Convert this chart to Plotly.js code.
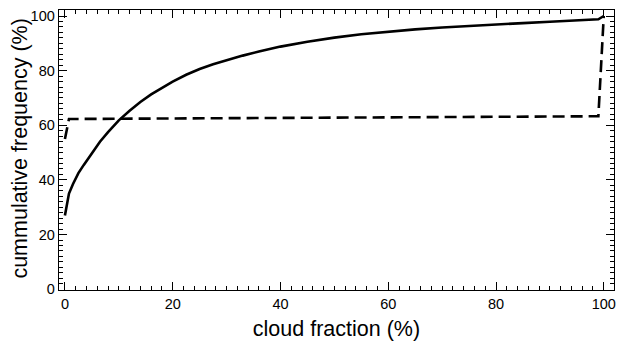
<!DOCTYPE html>
<html>
<head>
<meta charset="utf-8">
<script src="https://cdn.plot.ly/plotly-3.0.1.min.js"></script>
<style>html,body{margin:0;padding:0;background:#fff;}#chart{width:618px;height:343px;}</style>
</head>
<body>
<div id="chart"></div>
<script>
// Solid curve: cumulative frequency vs cloud fraction
var solidX = [0, 0.75, 1.5, 2.5, 3.5, 5, 6.5, 8, 10, 12, 14, 16, 18, 20, 22.5, 25, 27.5, 30, 33, 36, 40, 45, 50, 55, 60, 65, 70, 75, 80, 85, 90, 95, 99, 100];
var solidY = [27, 35, 38.5, 42.5, 45.5, 50, 54, 57.5, 61.8, 65.3, 68.5, 71.3, 73.8, 76, 78.5, 80.6, 82.3, 83.8, 85.5, 87, 88.8, 90.6, 92.1, 93.3, 94.3, 95.1, 95.8, 96.4, 96.9, 97.4, 97.9, 98.4, 98.8, 100];
// Dashed curve
var dashX = [0, 0.75, 99, 100];
var dashY = [55, 62.3, 63.3, 100];

var xTitle = 'cloud fraction (%)';
var yTitle = 'cummulative frequency (%)';

var font = 'Liberation Sans, Arial, Helvetica, sans-serif';

var traces = [
  {x: solidX, y: solidY, type: 'scatter', mode: 'lines',
   line: {color: '#000', width: 2.6}, hoverinfo: 'skip'},
  {x: dashX, y: dashY, type: 'scatter', mode: 'lines',
   line: {color: '#000', width: 2.6, dash: '12px,6px'}, hoverinfo: 'skip'}
];

var axisCommon = {
  showline: true, linecolor: '#000', linewidth: 1.3, mirror: 'allticks',
  ticks: 'inside', ticklen: 8, tickwidth: 1, tickcolor: '#000',
  showgrid: false, zeroline: false,
  tickfont: {family: font, size: 14.5, color: '#000'},
  dtick: 20, tick0: 0,
  minor: {dtick: 2, ticks: 'inside', ticklen: 4, tickwidth: 1, tickcolor: '#000', showgrid: false}
};

var layout = {
  width: 618, height: 343,
  margin: {l: 59, r: 4, t: 10, b: 53},
  paper_bgcolor: '#fff', plot_bgcolor: '#fff',
  showlegend: false,
  xaxis: Object.assign({}, axisCommon, {
    range: [-1.1, 101.9],
    title: {text: xTitle, font: {family: font, size: 21.5, color: '#000'}, standoff: 10}
  }),
  yaxis: Object.assign({}, axisCommon, {
    range: [-0.3, 102.2]
  }),
  annotations: [{
    text: yTitle, xref: 'paper', yref: 'paper', x: 0, y: 0.505,
    xshift: -39, xanchor: 'center', yanchor: 'middle', textangle: -90,
    showarrow: false, font: {family: font, size: 21.5, color: '#000'}
  }]
};

Plotly.newPlot('chart', traces, layout, {displayModeBar: false, staticPlot: true});
</script>
</body>
</html>
